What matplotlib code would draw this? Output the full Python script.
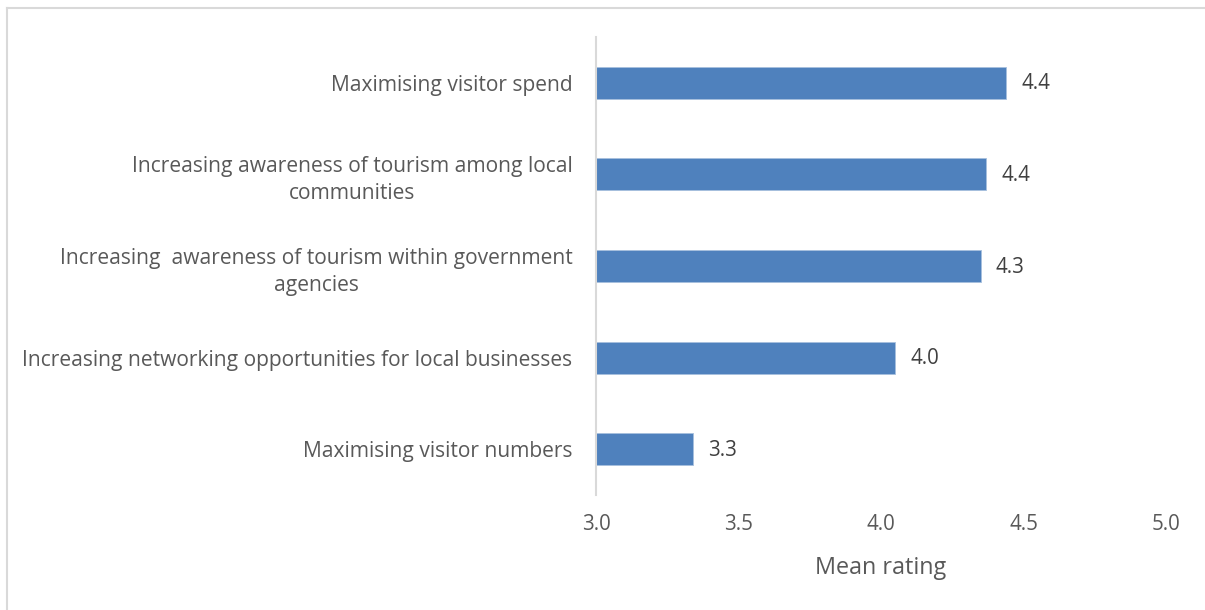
import matplotlib
matplotlib.use("Agg")
import matplotlib.pyplot as plt
from matplotlib.lines import Line2D

# Survey results: mean rating of each tourism objective (top to bottom)
categories = [
    "Maximising visitor spend",
    "Increasing awareness of tourism among local\ncommunities",
    "Increasing  awareness of tourism within government\nagencies",
    "Increasing networking opportunities for local businesses",
    "Maximising visitor numbers",
]
mean_ratings = [4.44, 4.37, 4.35, 4.05, 3.34]
x_ticks = [3.0, 3.5, 4.0, 4.5, 5.0]
x_label = "Mean rating"

BAR_COLOR = "#4F81BD"
TEXT_COLOR = "#595959"
VALUE_COLOR = "#404040"
LINE_COLOR = "#D9D9D9"

plt.rcParams["font.family"] = ["Open Sans", "DejaVu Sans"]

fig = plt.figure(figsize=(12.05, 6.10), dpi=100)
fig.patch.set_facecolor("white")

ax = fig.add_axes([596 / 1205, 1 - 495 / 610, 570 / 1205, 458 / 610])

positions = list(range(len(categories)))
base = x_ticks[0]
ax.barh(positions, [v - base for v in mean_ratings], left=base,
        height=0.35, color=BAR_COLOR, edgecolor="#A7C0DE", linewidth=0.6)

for y, v in zip(positions, mean_ratings):
    ax.annotate(f"{v:.1f}", xy=(v, y), xytext=(15, -1),
                textcoords="offset pixels", ha="left", va="center",
                fontsize=14.8, color=VALUE_COLOR)

ax.set_xlim(x_ticks[0], x_ticks[-1])
ax.set_ylim(len(categories) - 0.5, -0.5)
ax.set_xticks(x_ticks)
ax.set_xticklabels([f"{t:.1f}" for t in x_ticks], fontsize=14.8, color=TEXT_COLOR)
ax.set_yticks(positions)
ax.set_yticklabels(categories, fontsize=15.1, color=TEXT_COLOR,
                   multialignment="center", linespacing=1.4)
ax.tick_params(axis="x", length=0, pad=14)
ax.tick_params(axis="y", length=0, pad=17)
ax.set_xlabel(x_label, fontsize=16.8, color=TEXT_COLOR, labelpad=15)

for side in ("top", "right", "bottom"):
    ax.spines[side].set_visible(False)
ax.spines["left"].set_color(LINE_COLOR)
ax.spines["left"].set_linewidth(1.5)

# Chart-area frame (top and left edges)
fig.add_artist(Line2D([7 / 1205, 1.0], [1 - 7.5 / 610, 1 - 7.5 / 610],
                      transform=fig.transFigure, color=LINE_COLOR, linewidth=1.5))
fig.add_artist(Line2D([7 / 1205, 7 / 1205], [0.0, 1 - 7.5 / 610],
                      transform=fig.transFigure, color=LINE_COLOR, linewidth=1.5))

fig.savefig("out.png", dpi=100, facecolor="white")
